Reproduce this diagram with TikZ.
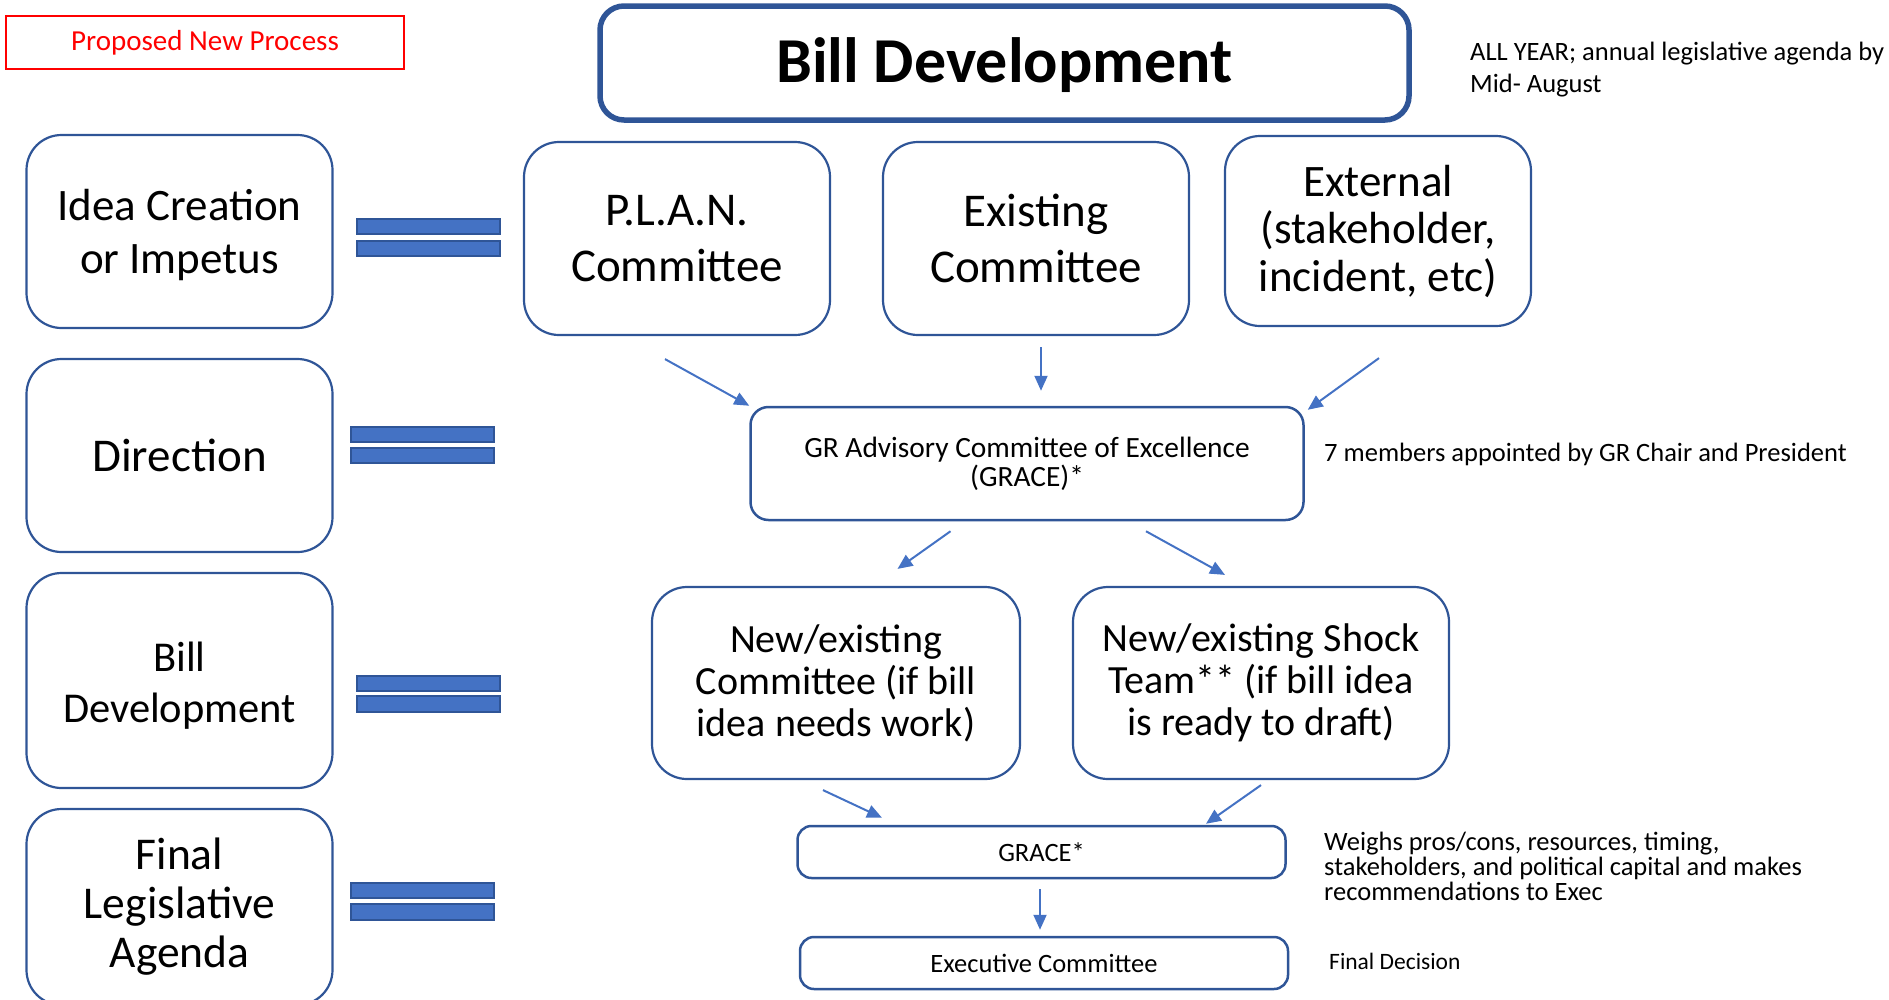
\documentclass[tikz,border=0pt]{standalone}
\usepackage{fontspec}
\setmainfont{Carlito}
\usetikzlibrary{arrows.meta,calc}
\definecolor{bdr}{HTML}{2F5597}
\definecolor{fillb}{HTML}{4472C4}
\definecolor{redc}{HTML}{FF0000}
\begin{document}
\begin{tikzpicture}[x=1pt,y=-1pt,
  lbox/.style={draw=bdr, line width=2.2pt, rounded corners=35pt, minimum width=306pt, minimum height=193pt, align=center, inner sep=0pt, font=\fontsize{45}{53}\selectfont},
  tbox/.style={draw=bdr, line width=2.2pt, rounded corners=35pt, minimum width=306pt, minimum height=193pt, align=center, inner sep=0pt, font=\fontsize{47}{56}\selectfont},
  mbox/.style={draw=bdr, line width=2.2pt, rounded corners=35pt, minimum height=192pt, align=center, inner sep=0pt, font=\fontsize{40}{42}\selectfont},
  sbox/.style={draw=bdr, line width=2.5pt, rounded corners=14pt, align=center, inner sep=0pt, font=\fontsize{26.5}{29}\selectfont},
  note/.style={anchor=west, align=left, inner sep=0pt, font=\fontsize{26.5}{25}\selectfont},
  eqbar/.style={draw=bdr, fill=fillb, line width=1.2pt},
  arr/.style={draw=fillb, line width=2pt, -{Triangle[length=15pt,width=13pt]}}
]
\useasboundingbox (0,0) rectangle (1889,999);
\clip (0,0) rectangle (1889,999);

% header
\node[draw=redc, line width=1.5pt, minimum width=398pt, minimum height=53pt, inner sep=0pt, text=redc, font=\fontsize{29}{32}\selectfont] (prop) at (205,42.5) {Proposed New Process};
\node[draw=bdr, line width=5.5pt, rounded corners=24pt, minimum width=809pt, minimum height=114pt, inner sep=0pt, text height=45pt, text depth=6pt, font=\fontsize{64}{70}\selectfont\bfseries] (title) at (1004.5,63) {Bill Development};
\node[note, font=\fontsize{26.5}{32.5}\selectfont] (ann1) at (1470,69.5) {ALL YEAR; annual legislative agenda by\\Mid- August};

% left column
\node[lbox] (idea) at (179.5,231.5) {\rule{0pt}{38pt}Idea Creation\\or Impetus};
\node[lbox, font=\fontsize{47}{53}\selectfont] (dir) at (179.5,455.5) {Direction};
\node[lbox, minimum height=215pt, font=\fontsize{42.5}{51}\selectfont] (bill) at (179.5,680.5) {\rule{0pt}{40pt}Bill\\Development};
\node[lbox, minimum height=196pt, font=\fontsize{45.5}{49}\selectfont] (final) at (179.5,907) {Final\\Legislative\\Agenda};

% equal signs
\draw[eqbar] (357,219) rectangle (500,234);
\draw[eqbar] (357,241) rectangle (500,256);
\draw[eqbar] (351,427) rectangle (494,442);
\draw[eqbar] (351,448) rectangle (494,463);
\draw[eqbar] (357,676) rectangle (500,691);
\draw[eqbar] (357,696) rectangle (500,712);
\draw[eqbar] (351,883) rectangle (494,898);
\draw[eqbar] (351,904) rectangle (494,920);

% top row
\node[tbox] (plan) at (677,238.5) {P.L.A.N.\\Committee};
\node[tbox] (exist) at (1036,238.5) {Existing\\Committee};
\node[tbox, minimum height=190pt, font=\fontsize{45}{47.5}\selectfont] (ext) at (1378,231) {External\\(stakeholder,\\incident, etc)};

% GRACE
\node[sbox, rounded corners=18pt, minimum width=553pt, minimum height=113pt, font=\fontsize{29.4}{29}\selectfont] (grace) at (1027,463.5) {GR Advisory Committee of Excellence\\(GRACE)*};
\node[note] (ann2) at (1324,454) {7 members appointed by GR Chair and President};

% middle row
\node[mbox, minimum width=368pt] (newc) at (836,683) {New/existing\\Committee (if bill\\idea needs work)};
\node[mbox, minimum width=376pt] (shock) at (1261,683) {New/existing Shock\\Team** (if bill idea\\is ready to draft)};

% bottom
\node[sbox, minimum width=488pt, minimum height=52pt] (grace2) at (1041.5,852) {GRACE*};
\node[note] (ann3) at (1324,866) {Weighs pros/cons, resources, timing,\\stakeholders, and political capital and makes\\recommendations to Exec};
\node[sbox, minimum width=488pt, minimum height=52pt] (exec) at (1044,963) {Executive Committee};
\node[note, font=\fontsize{23.5}{26}\selectfont] (ann4) at (1329,961) {Final Decision};

% arrows
\draw[arr] ($(plan.south)+(-12,23)$) -- (grace.north west);
\draw[arr] ($(exist.south)+(5,11)$) -- ($(grace.north)+(14,-15)$);
\draw[arr] ($(ext.south)+(1,31)$) -- ($(grace.north east)+(3,4)$);
\draw[arr] ($(grace.south)+(-76.5,10)$) -- ($(newc.north)+(61.5,-17)$);
\draw[arr] ($(grace.south)+(119,10)$) -- ($(shock.north)+(-36,-11)$);
\draw[arr] ($(newc.south)+(-13,10)$) -- ($(grace2.north)+(-159.5,-7)$);
\draw[arr] ($(shock.south)+(0,5)$) -- ($(grace2.north)+(164.5,-1)$);
\draw[arr] ($(grace2.south)+(-1.5,10)$) -- ($(exec.north)+(-4,-6)$);
\end{tikzpicture}
\end{document}
